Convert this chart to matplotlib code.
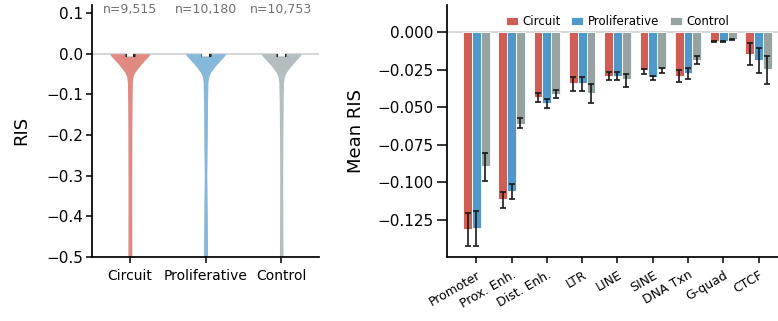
import matplotlib.pyplot as plt
import numpy as np

# === data ===
groups = ["Circuit", "Proliferative", "Control"]
n_labels = ["n=9,515", "n=10,180", "n=10,753"]
violin_colors = ["#e08a82", "#86b8da", "#b4bec0"]
bar_colors = ["#cf5f55", "#4f98ca", "#97a3a3"]

# violin outline: RIS value vs half-width (pixels at 100 dpi)
violin_ris = [0.0, -0.004, -0.012, -0.024, -0.036, -0.046, -0.056, -0.07, -0.12, -0.2, -0.3, -0.4, -0.5, -0.55]
violin_half = {
    "Circuit":       [20, 19.5, 16.5, 12, 8, 5, 3.2, 2.5, 2.2, 2.0, 1.9, 1.9, 2.0, 2.0],
    "Proliferative": [20, 19.5, 16.5, 12, 8, 5, 3.2, 2.4, 2.0, 1.8, 1.3, 1.8, 2.0, 2.0],
    "Control":       [20, 19.5, 16.5, 12, 8, 5, 3.2, 2.4, 2.0, 1.7, 1.5, 1.6, 1.8, 1.8],
}

categories = ["Promoter", "Prox. Enh.", "Dist. Enh.", "LTR", "LINE", "SINE", "DNA Txn", "G-quad", "CTCF"]
mean_circuit = [-0.1310, -0.1113, -0.0429, -0.0340, -0.0293, -0.0253, -0.0291, -0.0060, -0.0143]
mean_prolif = [-0.1307, -0.1056, -0.0469, -0.0340, -0.0289, -0.0300, -0.0271, -0.0060, -0.0187]
mean_control = [-0.0891, -0.0611, -0.0411, -0.0403, -0.0313, -0.0245, -0.0185, -0.0045, -0.0247]
ci_circuit = [(-0.1207, -0.1425), (-0.1062, -0.1169), (-0.0407, -0.0467), (-0.0296, -0.0391), (-0.0267, -0.0320),
              (-0.0247, -0.0278), (-0.0249, -0.0331), (-0.0056, -0.0064), (-0.0073, -0.0220)]
ci_prolif = [(-0.1191, -0.1425), (-0.1011, -0.1111), (-0.0445, -0.0502), (-0.0299, -0.0391), (-0.0262, -0.0320),
             (-0.0289, -0.0318), (-0.0240, -0.0309), (-0.0056, -0.0064), (-0.0107, -0.0273)]
ci_control = [(-0.0802, -0.0991), (-0.0573, -0.0640), (-0.0385, -0.0436), (-0.0347, -0.0469), (-0.0280, -0.0363),
              (-0.0240, -0.0269), (-0.0156, -0.0213), (-0.0042, -0.0049), (-0.0156, -0.0347)]

plt.rcParams["font.family"] = "DejaVu Sans"

fig = plt.figure(figsize=(7.78, 3.21), dpi=100)
ax1 = fig.add_axes([0.1183, 0.2003, 0.2918, 0.7841])
ax2 = fig.add_axes([0.5746, 0.2003, 0.4254, 0.7841])

# --- left: violins ---
px_per_unit = 76.0
ax1.axhline(0, color="#d0d0d0", lw=1.2, zorder=0)
for i, g in enumerate(groups):
    half = np.array(violin_half[g]) / px_per_unit
    ax1.fill_betweenx(violin_ris, i - half, i + half, color=violin_colors[i], lw=0, zorder=2)
    ax1.hlines(-0.002, i - 0.066, i + 0.066, color="#222222", lw=2.2, zorder=3)
    ax1.hlines(-0.002, i - 0.044, i + 0.044, color="white", lw=2.6, zorder=4)
    ax1.text(i, 0.11, n_labels[i], ha="center", va="center", fontsize=9, color="#707070")

ax1.set_xlim(-0.5, 2.5)
ax1.set_ylim(-0.5, 0.12)
ax1.set_xticks(range(3))
ax1.set_xticklabels(groups)
ax1.set_yticks([0.1, 0.0, -0.1, -0.2, -0.3, -0.4, -0.5])
ax1.set_ylabel("RIS", fontsize=13, labelpad=11)

# --- right: mean bars ---
x = np.arange(len(categories))
w = 0.25
series = [(mean_circuit, ci_circuit), (mean_prolif, ci_prolif), (mean_control, ci_control)]
ax2.axhline(0, color="#d0d0d0", lw=1.2, zorder=0)
for k, (means, cis) in enumerate(series):
    xs = x + (k - 1) * w
    ax2.bar(xs, means, width=w, color=bar_colors[k], edgecolor="white", linewidth=0.6,
            label=groups[k], zorder=2)
    hi = np.array([c[0] for c in cis])
    lo = np.array([c[1] for c in cis])
    m = np.array(means)
    yerr = np.vstack([np.clip(m - lo, 0, None), np.clip(hi - m, 0, None)])
    ax2.errorbar(xs, m, yerr=yerr, fmt="none", ecolor="#1a1a1a", elinewidth=1.2,
                 capsize=2.2, capthick=1.2, zorder=3)

ax2.set_xlim(-0.83, 8.55)
ax2.set_ylim(-0.1496, 0.0182)
ax2.set_xticks(x)
ax2.set_xticklabels(categories, rotation=30, ha="right", rotation_mode="anchor")
ax2.set_yticks([0.0, -0.025, -0.05, -0.075, -0.1, -0.125])
ax2.set_yticklabels(["0.000", "\u22120.025", "\u22120.050", "\u22120.075", "\u22120.100", "\u22120.125"])
ax2.set_ylabel("Mean RIS", fontsize=13, labelpad=9)
ax2.legend(loc="center", bbox_to_anchor=(0.515, 0.934), ncol=3, frameon=False, fontsize=8.5,
           handlelength=1.0, handleheight=0.7, handletextpad=0.4, columnspacing=0.9)

for ax in (ax1, ax2):
    ax.spines["top"].set_visible(False)
    ax.spines["right"].set_visible(False)
    ax.spines["left"].set_linewidth(1.25)
    ax.spines["bottom"].set_linewidth(1.25)
    ax.tick_params(length=4.5, width=1.1, pad=4)
    ax.tick_params(axis="y", labelsize=11)
ax1.tick_params(axis="y", length=4.3, pad=2.2)
ax1.tick_params(axis="x", labelsize=10)
ax2.tick_params(axis="y", length=7.5, pad=2)
ax2.tick_params(axis="x", labelsize=9)

fig.savefig("out.png", dpi=100)
